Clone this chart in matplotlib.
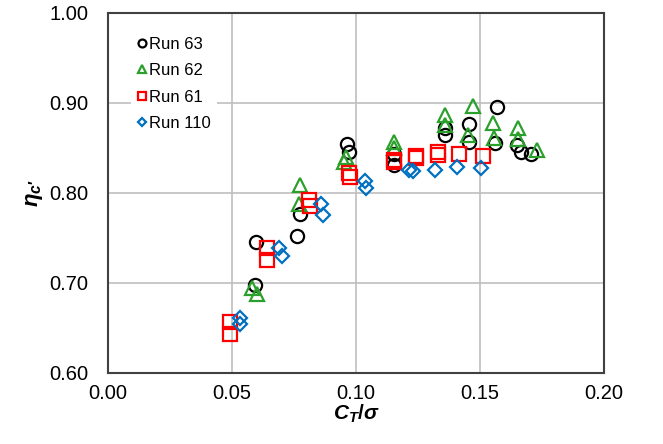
import numpy as np
from matplotlib import pyplot as plt

plt.rcParams['font.family'] = ['Liberation Sans', 'DejaVu Sans']
plt.rcParams['mathtext.fontset'] = 'custom'
plt.rcParams['mathtext.it'] = 'Liberation Sans:italic:bold'
plt.rcParams['mathtext.rm'] = 'Liberation Sans:bold'
plt.rcParams['mathtext.bf'] = 'Liberation Sans:bold'

# Run 63
x63 = [0.0596, 0.0592, 0.0763, 0.0776, 0.0964, 0.0970, 0.1155, 0.1155, 0.1360, 0.1357,
       0.1457, 0.1457, 0.1567, 0.1559, 0.1650, 0.1665, 0.1707]
y63 = [0.745, 0.698, 0.752, 0.777, 0.854, 0.845, 0.843, 0.831, 0.872, 0.864,
       0.877, 0.857, 0.895, 0.855, 0.853, 0.845, 0.843]

# Run 62
x62 = [0.0582, 0.0601, 0.0776, 0.0768, 0.0952, 0.0959, 0.1153, 0.1153, 0.1358, 0.1358,
       0.1473, 0.1453, 0.1551, 0.1556, 0.1653, 0.1653, 0.1731]
y62 = [0.694, 0.688, 0.809, 0.788, 0.834, 0.840, 0.857, 0.850, 0.887, 0.875,
       0.896, 0.864, 0.878, 0.861, 0.872, 0.860, 0.848]

# Run 61
x61 = [0.0491, 0.0491, 0.0642, 0.0639, 0.0811, 0.0813, 0.0972, 0.0974, 0.1155, 0.1155,
       0.1241, 0.1241, 0.1332, 0.1332, 0.1416, 0.1513]
y61 = [0.657, 0.643, 0.739, 0.726, 0.792, 0.785, 0.822, 0.818, 0.837, 0.834,
       0.841, 0.839, 0.845, 0.842, 0.843, 0.841]

# Run 110
x110 = [0.0531, 0.0533, 0.0689, 0.0702, 0.0858, 0.0867, 0.1038, 0.1042, 0.1215, 0.1230,
        0.1318, 0.1408, 0.1504]
y110 = [0.661, 0.654, 0.739, 0.730, 0.788, 0.776, 0.813, 0.806, 0.826, 0.824,
        0.826, 0.829, 0.828]

fig = plt.figure(figsize=(6.63, 4.44), dpi=100)
ax = fig.add_axes([0.163, 0.160, 0.748, 0.811])

ms = 9.5
mew = 1.6
ax.plot(x63, y63, 'o', ms=ms, mfc='none', mec='black', mew=mew, label='Run 63', zorder=3)
ax.plot(x62, y62, '^', ms=ms, mfc='none', mec='#2ca02c', mew=mew, label='Run 62', zorder=3)
ax.plot(x61, y61, 's', ms=ms, mfc='none', mec='#ff0000', mew=mew, label='Run 61', zorder=3)
ax.plot(x110, y110, 'D', ms=7, mfc='none', mec='#0070c0', mew=mew, label='Run 110', zorder=3)

ax.set_xlim(0, 0.2)
ax.set_ylim(0.6, 1.0)
ax.set_xticks(np.arange(0, 0.21, 0.05))
ax.set_yticks(np.arange(0.6, 1.01, 0.1))
ax.xaxis.set_major_formatter(plt.FormatStrFormatter('%.2f'))
ax.yaxis.set_major_formatter(plt.FormatStrFormatter('%.2f'))
ax.tick_params(length=0, labelsize=14.5)
ax.tick_params(axis='y', pad=14)
ax.tick_params(axis='x', pad=8)
ax.grid(True, color='#bfbfbf', linewidth=1.2, zorder=0)
ax.set_axisbelow(True)
for s in ax.spines.values():
    s.set_color('#404040')
    s.set_linewidth(1.5)

ax.set_xlabel(r'$C_T/\sigma$', fontsize=15, labelpad=0)
ax.set_ylabel(r"$\eta_{c\prime}$", fontsize=16, labelpad=3)

leg = ax.legend(loc='upper left', bbox_to_anchor=(0.03, 0.975), fontsize=12,
                markerscale=0.6, handlelength=0.5, handletextpad=0.15,
                labelspacing=0.68, frameon=True, fancybox=False,
                borderpad=0.4)
leg.get_frame().set_edgecolor('none')
leg.get_frame().set_facecolor('white')
leg.get_frame().set_alpha(1)

fig.savefig('out.png', dpi=100)
